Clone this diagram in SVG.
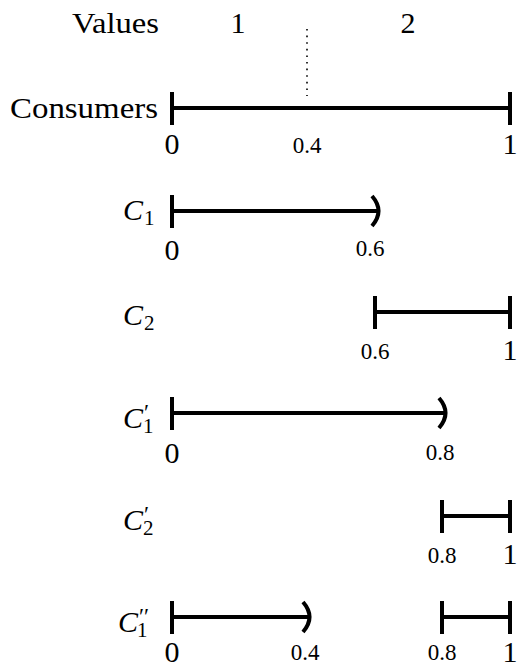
<svg xmlns="http://www.w3.org/2000/svg" width="518" height="669" viewBox="0 0 518 669">
<defs>
<style>
.bar{stroke:#000;stroke-width:4;fill:none}
.tick{stroke:#000;stroke-width:4}
.par{stroke:#000;stroke-width:4;fill:none;stroke-linecap:butt}
text{font-family:"Liberation Serif","DejaVu Serif","Times New Roman",serif;fill:#000}
.big{font-size:30px}
.sm{font-size:23px;text-anchor:middle}
.num{text-anchor:middle}
.it{font-style:italic}
.sub{font-size:21px;font-style:normal}
.pr{font-size:23px;font-style:normal}
</style>
<path id="tk" class="tick" d="M0,-16V17"/>
<path id="pr" class="par" d="M-4,-15Q9,0 -4,15"/>
</defs>
<rect width="518" height="669" fill="#fff"/>
<g id="header">
<text class="big" x="72" y="33" textLength="87" lengthAdjust="spacingAndGlyphs">Values</text>
<text class="big num" x="238" y="33">1</text>
<text class="big num" x="408" y="33">2</text>
</g>
<g id="connectors">
<line x1="307" y1="29" x2="307" y2="96" stroke="#000" stroke-width="1.6" stroke-dasharray="1.6 5"/>
</g>
<g id="consumers">
<text class="big" x="10" y="118" textLength="148" lengthAdjust="spacingAndGlyphs">Consumers</text>
<line class="bar" x1="172" y1="108" x2="510" y2="108"/>
<use href="#tk" x="172" y="108"/>
<use href="#tk" x="510" y="108"/>
<text class="big num" x="172" y="154">0</text>
<text class="sm" x="307" y="153">0.4</text>
<text class="big num" x="510" y="154">1</text>
</g>
<g id="c1">
<text class="big" x="123" y="220"><tspan class="it">C</tspan><tspan class="sub" dx="1" dy="5">1</tspan></text>
<line class="bar" x1="172" y1="211" x2="377" y2="211"/>
<use href="#tk" x="172" y="211"/>
<use href="#pr" x="376" y="211"/>
<text class="big num" x="172" y="260">0</text>
<text class="sm" x="370" y="256">0.6</text>
</g>
<g id="c2">
<text class="big" x="123" y="325"><tspan class="it">C</tspan><tspan class="sub" dx="1" dy="5">2</tspan></text>
<line class="bar" x1="375" y1="312" x2="510" y2="312"/>
<use href="#tk" x="375" y="312"/>
<use href="#tk" x="510" y="312"/>
<text class="sm" x="375" y="359">0.6</text>
<text class="big num" x="510" y="360">1</text>
</g>
<g id="c1p">
<text class="big" x="123" y="428"><tspan class="it">C</tspan><tspan class="pr" dx="1" dy="-8">′</tspan><tspan class="sub" dx="-6" dy="13">1</tspan></text>
<line class="bar" x1="172" y1="413" x2="444" y2="413"/>
<use href="#tk" x="172" y="413"/>
<use href="#pr" x="443" y="413"/>
<text class="big num" x="172" y="463">0</text>
<text class="sm" x="440" y="460">0.8</text>
</g>
<g id="c2p">
<text class="big" x="123" y="530"><tspan class="it">C</tspan><tspan class="pr" dx="1" dy="-8">′</tspan><tspan class="sub" dx="-6" dy="13">2</tspan></text>
<line class="bar" x1="442" y1="516" x2="510" y2="516"/>
<use href="#tk" x="442" y="516"/>
<use href="#tk" x="510" y="516"/>
<text class="sm" x="442" y="563">0.8</text>
<text class="big num" x="510" y="564">1</text>
</g>
<g id="c1pp">
<text class="big" x="118" y="632"><tspan class="it">C</tspan><tspan class="pr" dx="1" dy="-8">′′</tspan><tspan class="sub" dx="-12" dy="13">1</tspan></text>
<line class="bar" x1="172" y1="617" x2="308" y2="617"/>
<use href="#tk" x="172" y="617"/>
<use href="#pr" x="307" y="617"/>
<line class="bar" x1="442" y1="617" x2="510" y2="617"/>
<use href="#tk" x="442" y="617"/>
<use href="#tk" x="510" y="617"/>
<text class="big num" x="172" y="662">0</text>
<text class="sm" x="305" y="660">0.4</text>
<text class="sm" x="442" y="660">0.8</text>
<text class="big num" x="510" y="662">1</text>
</g>
</svg>
